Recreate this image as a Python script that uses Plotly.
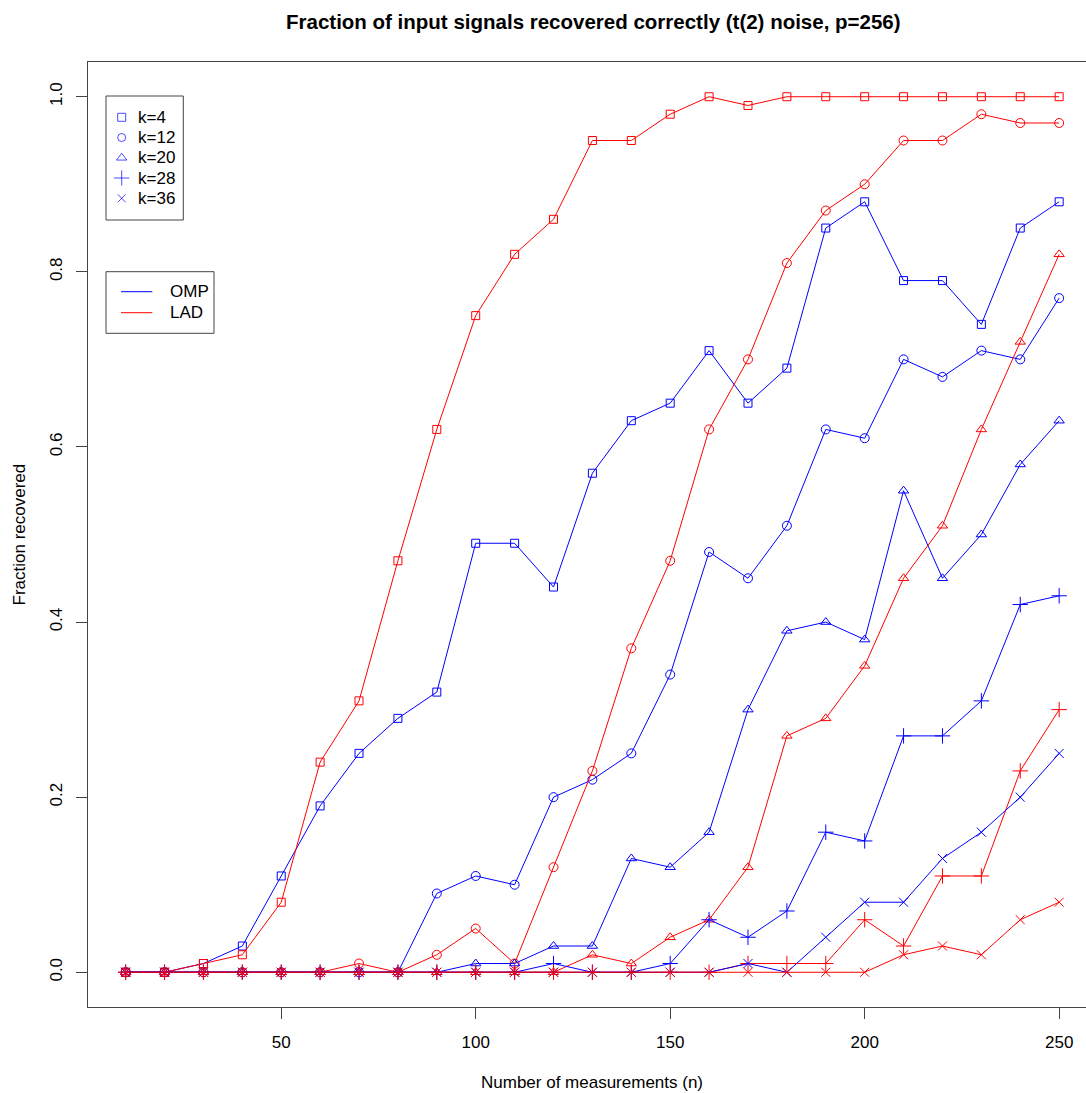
import plotly.graph_objects as go

W, H = 1086, 1093

n_meas = [10, 20, 30, 40, 50, 60, 70, 80, 90, 100, 110, 120, 130,
          140, 150, 160, 170, 180, 190, 200, 210, 220, 230, 240, 250]

omp_k4 = [0, 0, 0.01, 0.03, 0.11, 0.19, 0.25, 0.29, 0.32, 0.49, 0.49, 0.44, 0.57,
          0.63, 0.65, 0.71, 0.65, 0.69, 0.85, 0.88, 0.79, 0.79, 0.74, 0.85, 0.88]
lad_k4 = [0, 0, 0.01, 0.02, 0.08, 0.24, 0.31, 0.47, 0.62, 0.75, 0.82, 0.86, 0.95,
          0.95, 0.98, 1.0, 0.99, 1.0, 1.0, 1.0, 1.0, 1.0, 1.0, 1.0, 1.0]
omp_k12 = [0, 0, 0, 0, 0, 0, 0, 0, 0.09, 0.11, 0.10, 0.20, 0.22,
           0.25, 0.34, 0.48, 0.45, 0.51, 0.62, 0.61, 0.70, 0.68, 0.71, 0.70, 0.77]
lad_k12 = [0, 0, 0, 0, 0, 0, 0.01, 0, 0.02, 0.05, 0.01, 0.12, 0.23,
           0.37, 0.47, 0.62, 0.70, 0.81, 0.87, 0.90, 0.95, 0.95, 0.98, 0.97, 0.97]
omp_k20 = [0, 0, 0, 0, 0, 0, 0, 0, 0, 0.01, 0.01, 0.03, 0.03,
           0.13, 0.12, 0.16, 0.30, 0.39, 0.40, 0.38, 0.55, 0.45, 0.50, 0.58, 0.63]
lad_k20 = [0, 0, 0, 0, 0, 0, 0, 0, 0, 0, 0, 0, 0.02,
           0.01, 0.04, 0.06, 0.12, 0.27, 0.29, 0.35, 0.45, 0.51, 0.62, 0.72, 0.82]
omp_k28 = [0, 0, 0, 0, 0, 0, 0, 0, 0, 0, 0, 0.01, 0,
           0, 0.01, 0.06, 0.04, 0.07, 0.16, 0.15, 0.27, 0.27, 0.31, 0.42, 0.43]
lad_k28 = [0, 0, 0, 0, 0, 0, 0, 0, 0, 0, 0, 0, 0,
           0, 0, 0, 0.01, 0.01, 0.01, 0.06, 0.03, 0.11, 0.11, 0.23, 0.30]
omp_k36 = [0, 0, 0, 0, 0, 0, 0, 0, 0, 0, 0, 0, 0,
           0, 0, 0, 0.01, 0, 0.04, 0.08, 0.08, 0.13, 0.16, 0.20, 0.25]
lad_k36 = [0, 0, 0, 0, 0, 0, 0, 0, 0, 0, 0, 0, 0,
           0, 0, 0, 0, 0, 0, 0, 0.02, 0.03, 0.02, 0.06, 0.08]

k_labels = ["k=4", "k=12", "k=20", "k=28", "k=36"]
method_labels = ["OMP", "LAD"]
y_ticks = [0.0, 0.2, 0.4, 0.6, 0.8, 1.0]
y_ticktext = ["0.0", "0.2", "0.4", "0.6", "0.8", "1.0"]
x_ticks = [50, 100, 150, 200, 250]

BLUE = "#0000FF"
RED = "#FF0000"
FONT = "Liberation Sans, Arial, Helvetica, sans-serif"
AX = "#444444"

symbols = ["square-open", "circle-open", "triangle-up-open", "cross-thin-open", "x-thin-open"]
msizes = [8, 9, 9, 11, 9]

series = [
    (omp_k4, lad_k4), (omp_k12, lad_k12), (omp_k20, lad_k20),
    (omp_k28, lad_k28), (omp_k36, lad_k36),
]

fig = go.Figure()
for i, (omp, lad) in enumerate(series):
    for vals, col, name in ((omp, BLUE, "OMP"), (lad, RED, "LAD")):
        fig.add_trace(go.Scatter(
            x=n_meas, y=vals, mode="lines+markers",
            name=f"{name} {k_labels[i]}",
            line=dict(color=col, width=1),
            marker=dict(symbol=symbols[i], size=msizes[i], color=col,
                        line=dict(color=col, width=1)),
            showlegend=False, xaxis="x", yaxis="y",
        ))


def px(x):
    return x / W


def py(y):
    return 1 - y / H


# legend symbols / keys drawn on a full-page pixel axis (layout only)
leg_y = [117.3, 137.5, 157.8, 178.0, 198.3]
fig.add_trace(go.Scatter(
    x=[121.7] * 5, y=leg_y, mode="markers",
    marker=dict(symbol=symbols, size=[8, 8, 9, 11, 8], color=BLUE,
                line=dict(color=BLUE, width=1)),
    showlegend=False, xaxis="x2", yaxis="y2", hoverinfo="skip",
))
fig.add_trace(go.Scatter(
    x=[121, 152.3], y=[291.7, 291.7], mode="lines",
    line=dict(color=BLUE, width=1),
    showlegend=False, xaxis="x2", yaxis="y2", hoverinfo="skip",
))
fig.add_trace(go.Scatter(
    x=[121, 152.3], y=[312.7, 312.7], mode="lines",
    line=dict(color=RED, width=1),
    showlegend=False, xaxis="x2", yaxis="y2", hoverinfo="skip",
))

annotations = []
for lab, yy in zip(k_labels, leg_y):
    annotations.append(dict(x=px(136), y=py(yy), xref="paper", yref="paper",
                            text=lab, showarrow=False, xanchor="left", yanchor="middle",
                            font=dict(family=FONT, size=17, color="black")))
for lab, yy in zip(method_labels, [291.7, 312.7]):
    annotations.append(dict(x=px(168), y=py(yy), xref="paper", yref="paper",
                            text=lab, showarrow=False, xanchor="left", yanchor="middle",
                            font=dict(family=FONT, size=17, color="black")))

annotations.append(dict(x=px(593), y=py(22), xref="paper", yref="paper",
                        text="<b>Fraction of input signals recovered correctly (t(2) noise, p=256)</b>",
                        showarrow=False, xanchor="center", yanchor="middle",
                        font=dict(family=FONT, size=20.5, color="black")))
annotations.append(dict(x=px(592), y=py(1082), xref="paper", yref="paper",
                        text="Number of measurements (n)", showarrow=False,
                        xanchor="center", yanchor="middle",
                        font=dict(family=FONT, size=17, color="black")))
annotations.append(dict(x=px(19), y=py(534.5), xref="paper", yref="paper",
                        text="Fraction recovered", showarrow=False, textangle=-90,
                        xanchor="center", yanchor="middle",
                        font=dict(family=FONT, size=17, color="black")))

shapes = [
    dict(type="rect", xref="paper", yref="paper", x0=px(106), x1=px(183.3),
         y0=py(96), y1=py(220), line=dict(color=AX, width=1)),
    dict(type="rect", xref="paper", yref="paper", x0=px(106), x1=px(214),
         y0=py(271.7), y1=py(333.3), line=dict(color=AX, width=1)),
]

fig.update_layout(
    width=W, height=H,
    margin=dict(l=0, r=0, t=0, b=0, pad=0),
    paper_bgcolor="white", plot_bgcolor="rgba(0,0,0,0)",
    font=dict(family=FONT, size=17, color="black"),
    xaxis=dict(domain=[px(88.3), 1.0], range=[0.4, 256.9], tickvals=x_ticks,
               showgrid=False, zeroline=False, showline=True, mirror=True,
               linecolor=AX, linewidth=1, ticks="outside", ticklen=11,
               tickcolor=AX, tickwidth=1, ticklabelstandoff=8,
               tickfont=dict(family=FONT, size=17, color="black"), anchor="y"),
    yaxis=dict(domain=[py(1007.3), py(61.7)], range=[-0.04, 1.04],
               tickvals=y_ticks, ticktext=y_ticktext, tickangle=-90,
               showgrid=False, zeroline=False, showline=True, mirror=False,
               linecolor=AX, linewidth=1, ticks="outside", ticklen=11,
               tickcolor=AX, tickwidth=1, ticklabelstandoff=8,
               tickfont=dict(family=FONT, size=17, color="black"), anchor="x"),
    xaxis2=dict(domain=[0, 1], range=[0, W], visible=False, anchor="y2",
                fixedrange=True),
    yaxis2=dict(domain=[0, 1], range=[H, 0], visible=False, anchor="x2",
                fixedrange=True),
    annotations=annotations,
    shapes=shapes,
    showlegend=False,
)

fig.write_html("out.html")
